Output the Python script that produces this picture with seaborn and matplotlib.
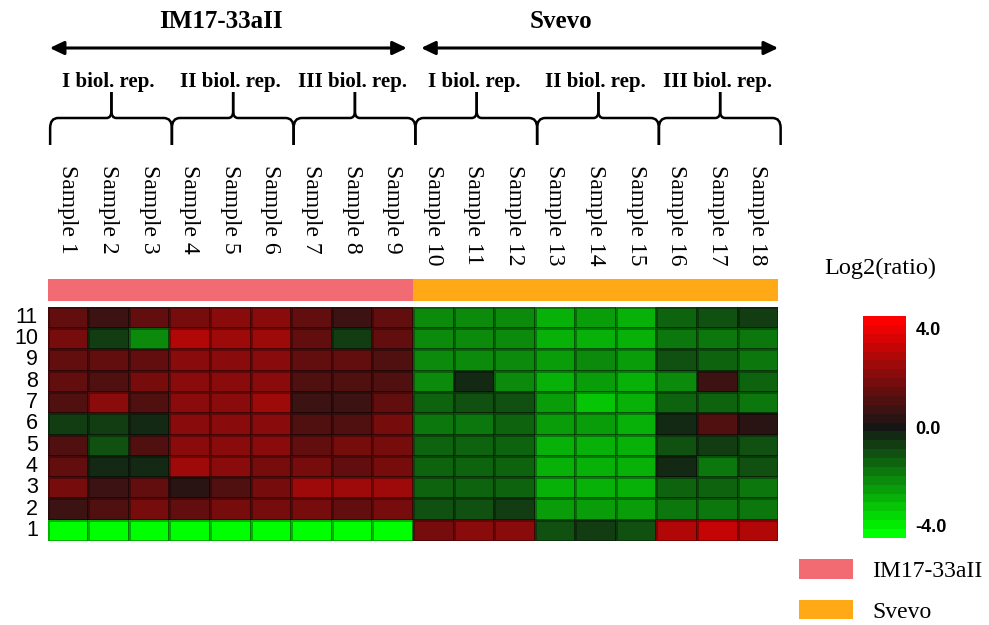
import numpy as np
import pandas as pd
import matplotlib
matplotlib.use('Agg')
import matplotlib.pyplot as plt
import seaborn as sns
from matplotlib.colors import LinearSegmentedColormap, ListedColormap
from matplotlib.patches import Patch, PathPatch
from matplotlib.path import Path
from matplotlib.transforms import blended_transform_factory

# data: log2(ratio), rows listed top (11) to bottom (1), columns Sample 1..18
samples = ['Sample %d' % i for i in range(1, 19)]
rows = ['11', '10', '9', '8', '7', '6', '5', '4', '3', '2', '1']
r11 = [1.3, 0.7, 1.4, 1.8, 2.3, 2.3, 1.3, 0.7, 1.6, -2.0, -2.0, -2.0, -2.8, -2.6, -2.8, -1.4, -1.2, -0.6]
r10 = [1.7, -0.8, -2.0, 2.7, 2.4, 2.5, 1.6, -0.7, 1.5, -2.2, -2.3, -2.2, -2.9, -2.9, -2.9, -1.8, -1.7, -1.8]
r9 = [1.6, 1.3, 1.6, 2.2, 2.3, 2.0, 1.3, 1.3, 0.9, -2.1, -2.1, -2.1, -2.4, -2.3, -2.4, -1.1, -1.4, -1.8]
r8 = [1.3, 1.1, 1.7, 2.2, 2.2, 2.2, 1.1, 1.1, 1.1, -2.1, -0.5, -2.3, -2.8, -2.5, -2.9, -2.1, 0.7, -1.4]
r7 = [0.9, 2.1, 1.0, 2.0, 2.1, 2.4, 0.8, 0.7, 1.4, -1.5, -1.2, -1.2, -2.6, -3.3, -2.8, -1.6, -1.3, -1.8]
r6 = [-0.9, -0.6, -0.4, 2.2, 2.2, 2.2, 1.1, 0.9, 1.7, -1.7, -1.7, -1.6, -2.7, -2.6, -2.8, -0.5, 1.0, 0.4]
r5 = [1.0, -1.0, 1.1, 2.2, 2.2, 2.3, 1.5, 1.8, 1.7, -1.6, -1.6, -1.6, -3.0, -2.8, -2.9, -1.0, -0.6, -1.0]
r4 = [1.5, -0.4, -0.4, 2.4, 2.1, 1.8, 1.9, 1.6, 1.7, -1.6, -1.6, -1.4, -3.0, -2.8, -2.9, -0.5, -1.8, -1.0]
r3 = [1.7, 0.8, 1.6, 0.5, 1.0, 1.8, 2.5, 2.5, 2.5, -1.6, -1.5, -1.6, -2.9, -2.9, -2.9, -1.6, -1.3, -1.7]
r2 = [0.6, 1.1, 1.7, 1.6, 1.8, 1.8, 1.8, 1.5, 1.7, -1.1, -1.1, -0.8, -2.6, -2.6, -2.7, -1.7, -1.8, -1.8]
r1 = [-4.5, -4.5, -4.5, -4.5, -4.5, -4.5, -4.5, -4.5, -4.5, 1.9, 2.2, 2.2, -1.1, -0.6, -1.0, 3.0, 3.1, 3.0]

groups = ['IM17-33aII', 'Svevo']
group_of_sample = [0] * 9 + [1] * 9
reps = ['I biol. rep.', 'II biol. rep.', 'III biol. rep.'] * 2
group_colors = ['#F36B72', '#FFA916']

df = pd.DataFrame([r11, r10, r9, r8, r7, r6, r5, r4, r3, r2, r1], index=rows, columns=samples)

serif = 'Liberation Serif'
sans = 'Liberation Sans'

cmap = LinearSegmentedColormap.from_list('gkr', ['#00ff00', '#151515', '#ff0000'], N=25)

fig = plt.figure(figsize=(9.89, 6.25), dpi=100)
W, H = 989, 625
ax = fig.add_axes([47.7 / W, 1 - 541 / H, 730.5 / W, 234.3 / H])
cax = fig.add_axes([863 / W, 1 - 538 / H, 43 / W, 222 / H])
gax = fig.add_axes([47.7 / W, 1 - 301 / H, 730.5 / W, 22 / H])
ov = fig.add_axes([0, 0, 1, 1])
ov.set_xlim(0, W)
ov.set_ylim(H, 0)
ov.set_axis_off()

sns.heatmap(df, ax=ax, cmap=cmap, vmin=-4.5, vmax=4.5, cbar_ax=cax,
            cbar_kws={'ticks': [-4, 0, 4]}, linewidths=0.8, linecolor=(0, 0, 0, 0.3),
            xticklabels=False, yticklabels=True)
ax.tick_params(axis='y', length=0, pad=7)
for t in ax.get_yticklabels():
    t.set_rotation(0)
    t.set_fontsize(15.5)
    t.set_family(sans)
ax.set_xlabel('')
ax.set_ylabel('')

cb = ax.collections[0].colorbar
cb.outline.set_visible(False)
cb.ax.tick_params(length=0, pad=7)
cb.ax.set_yticklabels(['-4.0', '0.0', '4.0'], fontsize=13, fontweight='bold', family=sans)

sns.heatmap(np.array([group_of_sample]), ax=gax, cmap=ListedColormap(group_colors),
            cbar=False, xticklabels=False, yticklabels=False)

tr = blended_transform_factory(ax.transData, ov.transData)

# sample names
for i, s in enumerate(samples):
    ov.text(i + 0.5, 165, s, transform=tr, rotation=270, ha='center', va='top',
            fontsize=17, family=serif)

# replicate braces
def brace(c0, c1):
    cm = (c0 + c1) / 2 + 0.07
    dx = 0.2
    tx = 0.12
    for a, sgn in [(c0 + 0.06, 1), (c1 + 0.06, -1)]:
        verts = [(a, 145), (a, 128), (a, 118), (a + sgn * dx, 118), (cm - sgn * tx, 118),
                 (cm, 118), (cm, 111), (cm, 92)]
        codes = [Path.MOVETO, Path.LINETO, Path.CURVE3, Path.CURVE3, Path.LINETO,
                 Path.CURVE3, Path.CURVE3, Path.LINETO]
        ov.add_patch(PathPatch(Path(verts, codes), fill=False, lw=1.8, color='black',
                               transform=tr, clip_on=False))

for k, rep in enumerate(reps):
    c0 = 3 * k
    brace(c0, c0 + 3)
    ov.text(c0 + 1.5, 82, rep, transform=tr, ha='center', va='center',
            fontsize=15, fontweight='bold', family=serif)

# group arrows and titles
for (x0, x1, xt), g in zip([(0.05, 8.85, 4.27), (9.2, 18.0, 12.65)], groups):
    ov.annotate('', xy=(x1, 48), xytext=(x0, 48), xycoords=tr, textcoords=tr,
                arrowprops=dict(arrowstyle='<|-|>,head_length=0.42,head_width=0.2',
                                mutation_scale=20, lw=2.2, color='black',
                                shrinkA=0, shrinkB=0))
    ov.text(xt, 22, g, transform=tr, ha='center', va='center',
            fontsize=18, fontweight='bold', family=serif)

ov.text(880, 268, 'Log2(ratio)', ha='center', va='center', fontsize=17.5, family=serif)

handles = [Patch(facecolor=c, edgecolor='none') for c in group_colors]
leg = fig.legend(handles, groups, loc='upper left', bbox_to_anchor=(799 / W, 1 - 559 / H),
                 frameon=False, borderpad=0, borderaxespad=0, handlelength=2.3,
                 handleheight=0.9, handletextpad=0.8, labelspacing=0.75,
                 prop={'family': serif, 'size': 17})

fig.savefig('out.png', dpi=100)
